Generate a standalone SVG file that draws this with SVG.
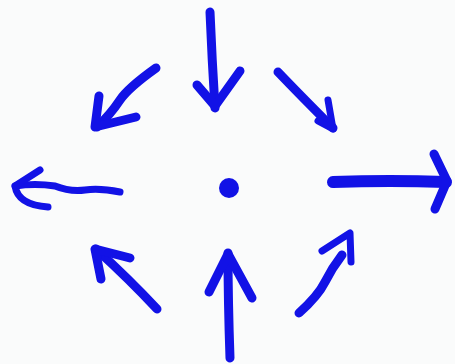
<svg xmlns="http://www.w3.org/2000/svg" width="455" height="364" viewBox="0 0 455 364">
<style>
.s{fill:none;stroke:#1212e6;stroke-width:9;stroke-linecap:round;stroke-linejoin:round}
.t{stroke-width:7}
.w{stroke-width:12}
</style>
<rect width="455" height="364" fill="#fafbfb"/>
<circle id="center" cx="229" cy="188" r="10" fill="#1212e6"/>
<g id="arrows">
<g id="top"><path class="s" d="M210,12 Q212,60 215,108"/><path class="s" d="M197,85 L215,106 L240,71"/></g>
<g id="topleft"><path class="s" d="M156,68 Q128,88 120,100 Q110,115 97,127"/><path class="s" d="M99,96 L95,127 L136,117"/></g>
<g id="topright"><path class="s" d="M278,72 Q300,95 333,128"/><path class="s t" d="M328,100 L333,129 L318,121"/></g>
<g id="left"><path class="s t" d="M120,192 Q100,188 85,190 Q70,192 55,186 Q35,183 15,186"/><path class="s t" d="M40,170 L15,186 Q18,205 48,207"/></g>
<g id="right"><path class="s w" d="M333,182 Q390,180 446,182"/><path class="s" d="M434,154 L447,181 L435,209"/></g>
<g id="bottomleft"><path class="s" d="M157,309 Q130,280 96,249"/><path class="s" d="M130,258 L95,249 L101,279"/></g>
<g id="bottom"><path class="s" d="M230,358 Q228,300 228,253"/><path class="s" d="M209,292 L228,254 L252,298"/></g>
<g id="bottomright"><path class="s" d="M299,313 Q318,296 325,282 Q332,268 342,255"/><path class="s t" d="M322,251 L350,233 L351,262"/></g>
</g>
</svg>
